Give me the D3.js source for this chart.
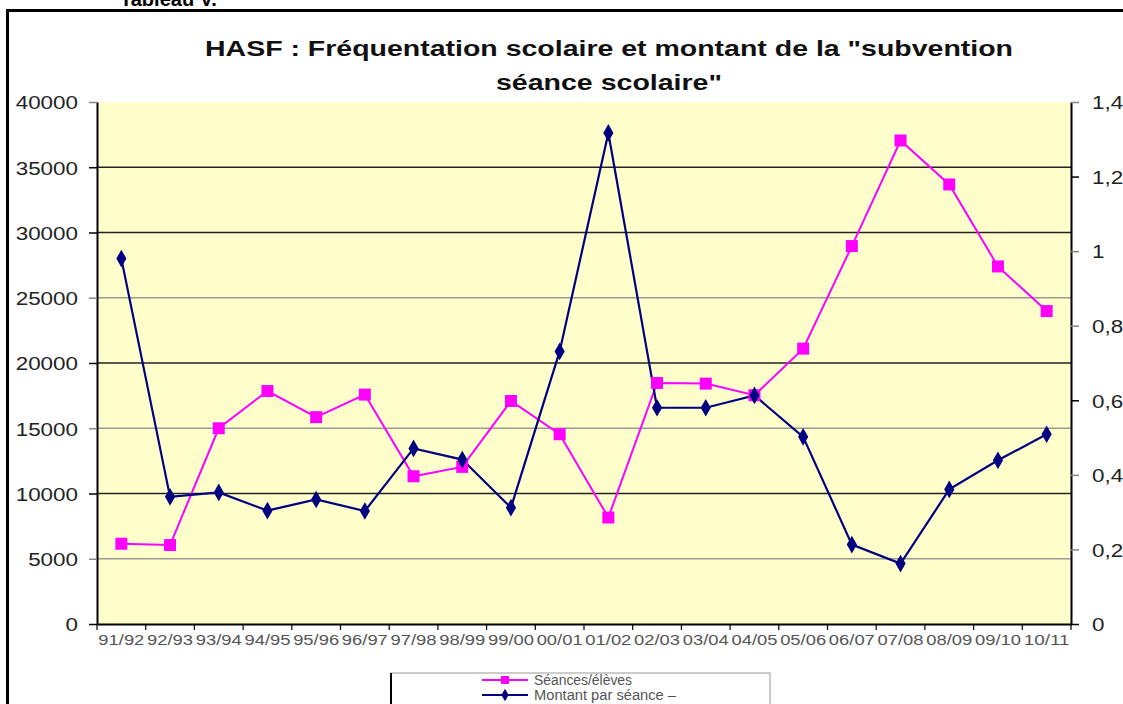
<!DOCTYPE html>
<html><head><meta charset="utf-8">
<script src="https://cdn.jsdelivr.net/npm/d3@7"></script>
<style>body{margin:0;background:#fff}svg{display:block}</style>
</head><body>
<svg id="c" width="1123" height="704"></svg>
<script>
const categories = ["91/92","92/93","93/94","94/95","95/96","96/97","97/98","98/99","99/00","00/01","01/02","02/03","03/04","04/05","05/06","06/07","07/08","08/09","09/10","10/11"];
const seances = [6150,6050,15000,17850,15850,17580,11320,12040,17090,14540,8160,18470,18420,17530,21100,28960,37050,33680,27400,23980];
const montant = [0.98,0.341,0.353,0.304,0.334,0.303,0.471,0.441,0.312,0.731,1.317,0.58,0.58,0.613,0.502,0.213,0.162,0.361,0.439,0.509];
const leftTicks = [0,5000,10000,15000,20000,25000,30000,35000,40000];
const rightTicks = [0,0.2,0.4,0.6,0.8,1,1.2,1.4];
const darkLeft = [10000,20000,30000,35000];
const darkRight = [0,0.6,1.2];
const seriesNames = ["Séances/élèves","Montant par séance –"];
const titleLines = ["HASF : Fréquentation  scolaire et montant de la \"subvention","séance scolaire\""];

const svg = d3.select("#c");
const L=97,R=1071,T=102,B=624;
const x = d3.scaleBand().domain(categories).range([L,R]);
const cx = d => x(d)+x.bandwidth()/2;
const yL = d3.scaleLinear().domain([0,40000]).range([B,T]);
const yR = d3.scaleLinear().domain([0,1.4]).range([B,T]);

// caption above frame (cut off at top in the original)
svg.append("text").attr("x",120).attr("y",6).attr("font-family","Liberation Sans, Arial").attr("font-weight","bold").attr("font-size",20).attr("fill","#000").text("Tableau V.");
// outer frame
svg.append("rect").attr("x",7.5).attr("y",10.5).attr("width",1130).attr("height",720).attr("fill","none").attr("stroke","#000").attr("stroke-width",3);

// title
titleLines.forEach((t,i)=>{
  svg.append("text").attr("x",609).attr("y",56+i*34).attr("text-anchor","middle")
    .attr("font-family","Liberation Sans, Arial").attr("font-weight","bold").attr("font-size",22).attr("fill","#111")
    .attr("textLength", i===0?808:226).attr("lengthAdjust","spacingAndGlyphs").text(t);
});

// plot area
svg.append("rect").attr("x",L).attr("y",T).attr("width",R-L).attr("height",B-T).attr("fill","#FFFFCC");
// gridlines
svg.append("g").selectAll("line").data(leftTicks.filter(d=>d>0&&d<40000)).join("line")
  .attr("x1",L).attr("x2",R).attr("y1",d=>yL(d)).attr("y2",d=>yL(d))
  .attr("stroke",d=>darkLeft.includes(d)?"#222":"#999").attr("stroke-width",d=>darkLeft.includes(d)?1.6:1.3);

const fontAxis = "Liberation Sans, Arial";
// left axis
const gl = svg.append("g").attr("transform",`translate(${L},0)`).call(d3.axisLeft(yL).tickValues(leftTicks).tickSize(8).tickSizeOuter(0).tickFormat(d3.format("d")));
gl.select(".domain").attr("stroke","#000").attr("stroke-width",2);
gl.selectAll(".tick line").attr("stroke",d=>darkLeft.includes(d)||d===0?"#000":"#888").attr("stroke-width",1.5);
gl.selectAll(".tick text").attr("font-family",fontAxis).attr("font-size",19).attr("fill","#222")
  .attr("x",-19/1.18).attr("dy","0.36em").attr("transform","scale(1.18,1)");

// right axis
const gr = svg.append("g").attr("transform",`translate(${R},0)`).call(d3.axisRight(yR).tickValues(rightTicks).tickSize(8).tickSizeOuter(0).tickFormat(d=>String(+d.toFixed(1)).replace(".",",")));
gr.select(".domain").attr("stroke","#000").attr("stroke-width",2);
gr.selectAll(".tick line").attr("stroke",d=>darkRight.includes(d)?"#000":"#888").attr("stroke-width",1.5);
gr.selectAll(".tick text").attr("font-family",fontAxis).attr("font-size",19).attr("fill","#222")
  .attr("x",21/1.18).attr("dy","0.36em").attr("transform","scale(1.18,1)");

// bottom axis
const gb = svg.append("g").attr("transform",`translate(0,${B})`).call(d3.axisBottom(x).tickSize(0).tickSizeOuter(0));
gb.select(".domain").attr("stroke","#000").attr("stroke-width",2);
gb.selectAll(".tick text").attr("font-family",fontAxis).attr("font-size",14).attr("fill","#555")
  .attr("y",16).attr("dy","0.36em").attr("textLength",46).attr("lengthAdjust","spacingAndGlyphs");
// boundary ticks
svg.append("g").selectAll("line").data(categories.concat(["end"])).join("line")
  .attr("x1",(d,i)=>i<categories.length?x(d):R).attr("x2",(d,i)=>i<categories.length?x(d):R)
  .attr("y1",B).attr("y2",B+6).attr("stroke","#000").attr("stroke-width",1.2);

// lines
const pink="#FF00FF", navy="#000080";
svg.append("path").datum(seances).attr("fill","none").attr("stroke",pink).attr("stroke-width",2)
  .attr("d",d3.line().x((d,i)=>cx(categories[i])).y(d=>yL(d)));
svg.append("path").datum(montant).attr("fill","none").attr("stroke",navy).attr("stroke-width",2.2)
  .attr("d",d3.line().x((d,i)=>cx(categories[i])).y(d=>yR(d)));
// markers
svg.append("g").selectAll("rect").data(seances).join("rect")
  .attr("x",(d,i)=>cx(categories[i])-6).attr("y",d=>yL(d)-6).attr("width",12).attr("height",12).attr("fill",pink);
const dia = d3.symbol().type(d3.symbolDiamond).size(90);
svg.append("g").selectAll("path").data(montant).join("path")
  .attr("transform",(d,i)=>`translate(${cx(categories[i])},${yR(d)})`).attr("d",dia).attr("fill",navy);

// legend
const lg = svg.append("g");
lg.append("rect").attr("x",391).attr("y",673).attr("width",379).attr("height",40).attr("fill","#fff").attr("stroke","#999").attr("stroke-width",1);
lg.append("line").attr("x1",391).attr("x2",391).attr("y1",673).attr("y2",704).attr("stroke","#000").attr("stroke-width",2);
const ly=[680,695];
[pink,navy].forEach((c,i)=>{
  lg.append("line").attr("x1",482).attr("x2",528).attr("y1",ly[i]).attr("y2",ly[i]).attr("stroke",c).attr("stroke-width",2);
  if(i===0) lg.append("rect").attr("x",501).attr("y",ly[i]-4).attr("width",8).attr("height",8).attr("fill",c);
  else lg.append("path").attr("transform",`translate(505,${ly[i]})`).attr("d",d3.symbol().type(d3.symbolDiamond).size(45)).attr("fill",c);
  lg.append("text").attr("x",534).attr("y",ly[i]).attr("dy","0.36em").attr("font-family",fontAxis).attr("font-size",14).attr("fill","#555")
    .attr("textLength",i===0?98:142).attr("lengthAdjust","spacingAndGlyphs").text(seriesNames[i]);
});
</script>
</body></html>
